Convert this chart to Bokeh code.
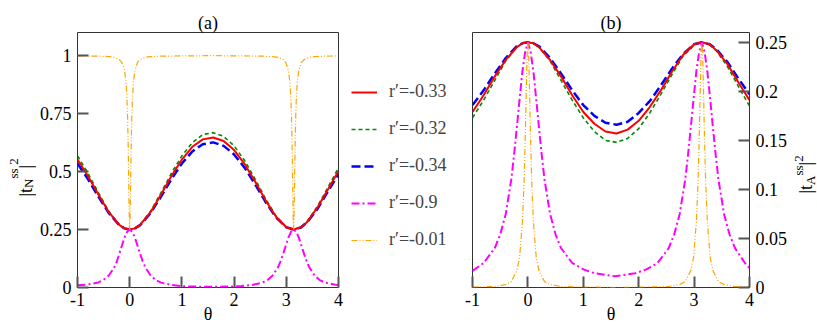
import math
from bokeh.plotting import figure
from bokeh.models import (Range1d, FixedTicker, CustomJSTickFormatter, Label,
                          Legend, LegendItem, LinearAxis, Title)
from bokeh.layouts import row
from bokeh.embed import file_html
from bokeh.resources import INLINE

FONT = "Liberation Serif"

x_ticks = [-1, 0, 1, 2, 3, 4]
ya_ticks = [0, 0.25, 0.5, 0.75, 1]
yb_ticks = [0, 0.05, 0.1, 0.15, 0.2, 0.25]
legend_labels = ["r′=-0.33", "r′=-0.32", "r′=-0.34", "r′=-0.9", "r′=-0.01"]

theta_s = [-1.0, -0.8, -0.6, -0.4, -0.2, -0.1, 0.0, 0.1, 0.2, 0.4, 0.6, 0.8, 1.0,
           1.2, 1.4, 1.6, 1.8, 2.0, 2.2, 2.4, 2.6, 2.8, 3.0, 3.14, 3.28, 3.4,
           3.6, 3.8, 4.0]
tN_r033 = [0.552, 0.481, 0.401, 0.325, 0.270, 0.255, 0.250, 0.255, 0.270, 0.325,
           0.401, 0.481, 0.552, 0.607, 0.639, 0.647, 0.632, 0.593, 0.533, 0.458,
           0.377, 0.306, 0.260, 0.250, 0.260, 0.283, 0.346, 0.424, 0.503]
tN_r032 = [0.568, 0.493, 0.409, 0.329, 0.271, 0.255, 0.250, 0.255, 0.271, 0.329,
           0.409, 0.493, 0.568, 0.625, 0.660, 0.668, 0.652, 0.611, 0.548, 0.469,
           0.384, 0.309, 0.261, 0.250, 0.260, 0.285, 0.351, 0.433, 0.516]
tN_r034 = [0.535, 0.468, 0.392, 0.321, 0.269, 0.255, 0.250, 0.255, 0.269, 0.321,
           0.392, 0.468, 0.535, 0.587, 0.618, 0.626, 0.611, 0.574, 0.517, 0.446,
           0.370, 0.303, 0.260, 0.250, 0.259, 0.281, 0.340, 0.415, 0.489]
tA_r033 = [0.179, 0.196, 0.215, 0.232, 0.245, 0.249, 0.250, 0.249, 0.245, 0.232,
           0.215, 0.196, 0.179, 0.167, 0.159, 0.157, 0.161, 0.170, 0.184, 0.201,
           0.220, 0.237, 0.248, 0.250, 0.248, 0.242, 0.228, 0.209, 0.191]
tA_r032 = [0.173, 0.191, 0.211, 0.231, 0.245, 0.249, 0.250, 0.249, 0.245, 0.231,
           0.211, 0.191, 0.173, 0.159, 0.150, 0.148, 0.152, 0.162, 0.178, 0.197,
           0.217, 0.236, 0.247, 0.250, 0.2475, 0.2415, 0.2255, 0.205, 0.185]
tA_r034 = [0.186, 0.201, 0.218, 0.234, 0.246, 0.249, 0.250, 0.249, 0.246, 0.234,
           0.218, 0.201, 0.186, 0.175, 0.168, 0.166, 0.169, 0.178, 0.190, 0.206,
           0.223, 0.238, 0.248, 0.250, 0.248, 0.243, 0.230, 0.213, 0.197]

theta_m = [-1.0, -0.8, -0.6, -0.5, -0.4, -0.3, -0.25, -0.2, -0.15, -0.1, -0.05,
           0.0, 0.05, 0.1, 0.15, 0.2, 0.25, 0.3, 0.4, 0.5, 0.6, 0.8, 1.0, 1.2,
           1.57, 1.94, 2.14, 2.34, 2.54, 2.64, 2.74, 2.84, 2.89, 2.94, 2.99, 3.04,
           3.09, 3.14, 3.19, 3.24, 3.29, 3.34, 3.39, 3.44, 3.54, 3.64, 3.74, 3.94,
           4.0]
tN_r09 = [0.010, 0.013, 0.022, 0.033, 0.052, 0.085, 0.110, 0.145, 0.180, 0.215,
          0.240, 0.250, 0.240, 0.215, 0.180, 0.145, 0.113, 0.087, 0.052, 0.032,
          0.021, 0.011, 0.006, 0.004, 0.003, 0.004, 0.006, 0.011, 0.021, 0.032,
          0.052, 0.087, 0.113, 0.145, 0.180, 0.215, 0.240, 0.250, 0.240, 0.215,
          0.180, 0.145, 0.113, 0.087, 0.052, 0.032, 0.021, 0.012, 0.011]
tA_r09 = [0.017, 0.025, 0.040, 0.054, 0.075, 0.110, 0.135, 0.163, 0.192, 0.220,
          0.240, 0.250, 0.240, 0.220, 0.192, 0.163, 0.135, 0.110, 0.075, 0.054,
          0.040, 0.025, 0.0185, 0.0145, 0.0115, 0.0145, 0.0185, 0.025, 0.040,
          0.054, 0.075, 0.110, 0.135, 0.163, 0.192, 0.220, 0.240, 0.250, 0.240,
          0.220, 0.192, 0.163, 0.135, 0.110, 0.075, 0.054, 0.040, 0.023, 0.020]

theta_o = [-1.0, -0.6, -0.4, -0.3, -0.2, -0.15, -0.1, -0.07, -0.05, -0.04, -0.03,
           -0.02, -0.01, 0.0, 0.01, 0.02, 0.03, 0.04, 0.05, 0.07, 0.1, 0.15, 0.2,
           0.3, 0.4, 0.6, 1.0, 1.57, 2.14, 2.54, 2.74, 2.84, 2.94, 2.99, 3.04,
           3.07, 3.09, 3.10, 3.11, 3.12, 3.13, 3.14, 3.15, 3.16, 3.17, 3.18, 3.19,
           3.21, 3.24, 3.29, 3.34, 3.44, 3.54, 3.74, 4.0]
tN_r001 = [0.999, 0.998, 0.996, 0.993, 0.983, 0.971, 0.938, 0.884, 0.802, 0.730,
           0.625, 0.481, 0.325, 0.250, 0.325, 0.481, 0.625, 0.730, 0.802, 0.884,
           0.938, 0.971, 0.983, 0.993, 0.996, 0.998, 0.999, 1.000, 0.999, 0.998,
           0.996, 0.993, 0.983, 0.971, 0.938, 0.884, 0.802, 0.730, 0.625, 0.481,
           0.325, 0.250, 0.325, 0.481, 0.625, 0.730, 0.802, 0.884, 0.938, 0.971,
           0.983, 0.993, 0.996, 0.998, 0.999]
tA_r001 = [0.0005, 0.001, 0.003, 0.006, 0.017, 0.031, 0.066, 0.106, 0.148, 0.173,
           0.200, 0.225, 0.243, 0.250, 0.243, 0.225, 0.200, 0.173, 0.148, 0.106,
           0.066, 0.031, 0.017, 0.006, 0.003, 0.001, 0.0005, 0.0, 0.0005, 0.001,
           0.003, 0.006, 0.017, 0.031, 0.066, 0.106, 0.148, 0.173, 0.200, 0.225,
           0.243, 0.250, 0.243, 0.225, 0.200, 0.173, 0.148, 0.106, 0.066, 0.031,
           0.017, 0.006, 0.003, 0.001, 0.0005]

STY = {
    "r033": dict(line_color="#ff0000", line_width=2.0),
    "r032": dict(line_color="#008a00", line_width=1.6, line_dash="4 3"),
    "r034": dict(line_color="#0000ff", line_width=2.5, line_dash="9 4"),
    "r09": dict(line_color="#ff00ff", line_width=2.0, line_dash="8 3 2 3"),
    "r001": dict(line_color="#ffa500", line_width=1.2, line_dash="6 2 1 2 1 2"),
}
ORDER = ["r033", "r032", "r034", "r09", "r001"]
SERIES_A = {"r033": tN_r033, "r032": tN_r032, "r034": tN_r034}

H = 327
FTOP, FBOT = 32, 287


def style(p, ticks_y, title):
    p.grid.visible = False
    p.outline_line_color = "#333333"
    p.outline_line_width = 1
    p.xaxis.ticker = FixedTicker(ticks=x_ticks)
    p.yaxis.ticker = FixedTicker(ticks=ticks_y)
    for ax in p.axis:
        ax.formatter = CustomJSTickFormatter(code="return String(tick)")
        ax.axis_line_color = None
        ax.major_tick_in = 11
        ax.major_tick_out = 0
        ax.minor_tick_in = 0
        ax.minor_tick_out = 0
        ax.major_tick_line_color = "#555555"
        ax.major_tick_line_width = 2
        ax.major_label_text_font = FONT
        ax.major_label_text_font_size = "18px"
        ax.major_label_text_color = "black"
        ax.major_label_standoff = 6
    p.xaxis.major_label_standoff = 5
    p.xaxis.axis_label = "θ"
    p.xaxis.axis_label_text_font = FONT
    p.xaxis.axis_label_text_font_size = "18px"
    p.xaxis.axis_label_text_font_style = "normal"
    p.xaxis.axis_label_text_color = "black"
    p.xaxis.axis_label_standoff = -5
    # panel title, then a blank spacer axis further out to push it down
    p.add_layout(Title(text=title, align="center", standoff=0,
                       text_font=FONT, text_font_size="18px",
                       text_font_style="normal", text_color="black"), "above")
    spacer = LinearAxis(ticker=FixedTicker(ticks=[]), axis_line_color=None,
                        major_tick_line_color=None, minor_tick_line_color=None,
                        major_tick_out=0, major_tick_in=0, axis_label=" ",
                        axis_label_text_font_size="6px", axis_label_standoff=0)
    p.add_layout(spacer, "above")


def strip(width, x0):
    p = figure(width=width, height=H, x_range=Range1d(x0, x0 + width),
               y_range=Range1d(FBOT, FTOP), output_backend="svg",
               toolbar_location=None, x_axis_type=None, y_axis_type=None,
               min_border=0, min_border_top=FTOP, min_border_bottom=H - FBOT)
    p.grid.visible = False
    p.outline_line_color = None
    return p


def piece(p, text, x, y, size="18px"):
    p.add_layout(Label(x=x, y=y, x_units="data", y_units="data", text=text,
                       angle=math.pi / 2, text_align="left",
                       text_baseline="alphabetic", text_font=FONT,
                       text_font_size=size, text_color="black"))


# ---------------- left label strip ----------------
pl = strip(36, 0)
piece(pl, "|t", 25, 196)
piece(pl, "N", 28, 187.4, "13px")
piece(pl, "ss", 13, 178, "13px")
piece(pl, "|", 25, 167.9)
piece(pl, "2", 13, 164.3, "13px")

# ---------------- panel (a) ----------------
pa = figure(width=312, height=H, x_range=Range1d(-1, 4), y_range=Range1d(0, 1.1),
            output_backend="svg", toolbar_location=None,
            min_border_left=37, min_border_right=10, min_border_top=FTOP,
            min_border_bottom=H - FBOT)
style(pa, ya_ticks, "(a)")
pa.line(theta_s, tN_r032, **STY["r032"])
pa.line(theta_s, tN_r034, **STY["r034"])
pa.line(theta_s, tN_r033, **STY["r033"])
pa.line(theta_m, tN_r09, **STY["r09"])
pa.line(theta_o, tN_r001, **STY["r001"])

# ---------------- legend strip ----------------
pm = figure(width=114, height=H, x_range=Range1d(10, 11), y_range=Range1d(10, 11),
            output_backend="svg", toolbar_location=None,
            x_axis_type=None, y_axis_type=None, min_border=0,
            min_border_top=FTOP, min_border_bottom=H - FBOT)
pm.grid.visible = False
pm.outline_line_color = None
items = []
for key, lab in zip(ORDER, legend_labels):
    ys = SERIES_A.get(key)
    if ys is not None:
        r = pm.line(theta_s, ys, **STY[key])
    elif key == "r09":
        r = pm.line(theta_m, tN_r09, **STY[key])
    else:
        r = pm.line(theta_o, tN_r001, **STY[key])
    items.append(LegendItem(label=lab, renderers=[r]))
legend = Legend(items=items, location=(3, 37), border_line_alpha=0,
                background_fill_alpha=0, padding=0, margin=0, spacing=16,
                glyph_width=26, glyph_height=20, label_height=20,
                label_standoff=12, label_text_font=FONT,
                label_text_font_size="18px")
pm.add_layout(legend)

# ---------------- panel (b) ----------------
pb = figure(width=328, height=H, x_range=Range1d(-1, 4), y_range=Range1d(0, 0.26),
            output_backend="svg", toolbar_location=None, y_axis_location="right",
            min_border_left=10, min_border_right=41, min_border_top=FTOP,
            min_border_bottom=H - FBOT)
style(pb, yb_ticks, "(b)")
pb.line(theta_s, tA_r032, **STY["r032"])
pb.line(theta_s, tA_r034, **STY["r034"])
pb.line(theta_s, tA_r033, **STY["r033"])
pb.line(theta_m, tA_r09, **STY["r09"])
pb.line(theta_o, tA_r001, **STY["r001"])

# ---------------- right label strip ----------------
pr = strip(27, 790)
piece(pr, "|t", 805, 193)
piece(pr, "A", 810, 184.4, "13px")
piece(pr, "ss", 798, 175, "13px")
piece(pr, "|", 805, 164.9)
piece(pr, "2", 798, 161.3, "13px")

layout = row(pl, pa, pm, pb, pr)
open("out.html", "w").write(file_html(layout, INLINE))
